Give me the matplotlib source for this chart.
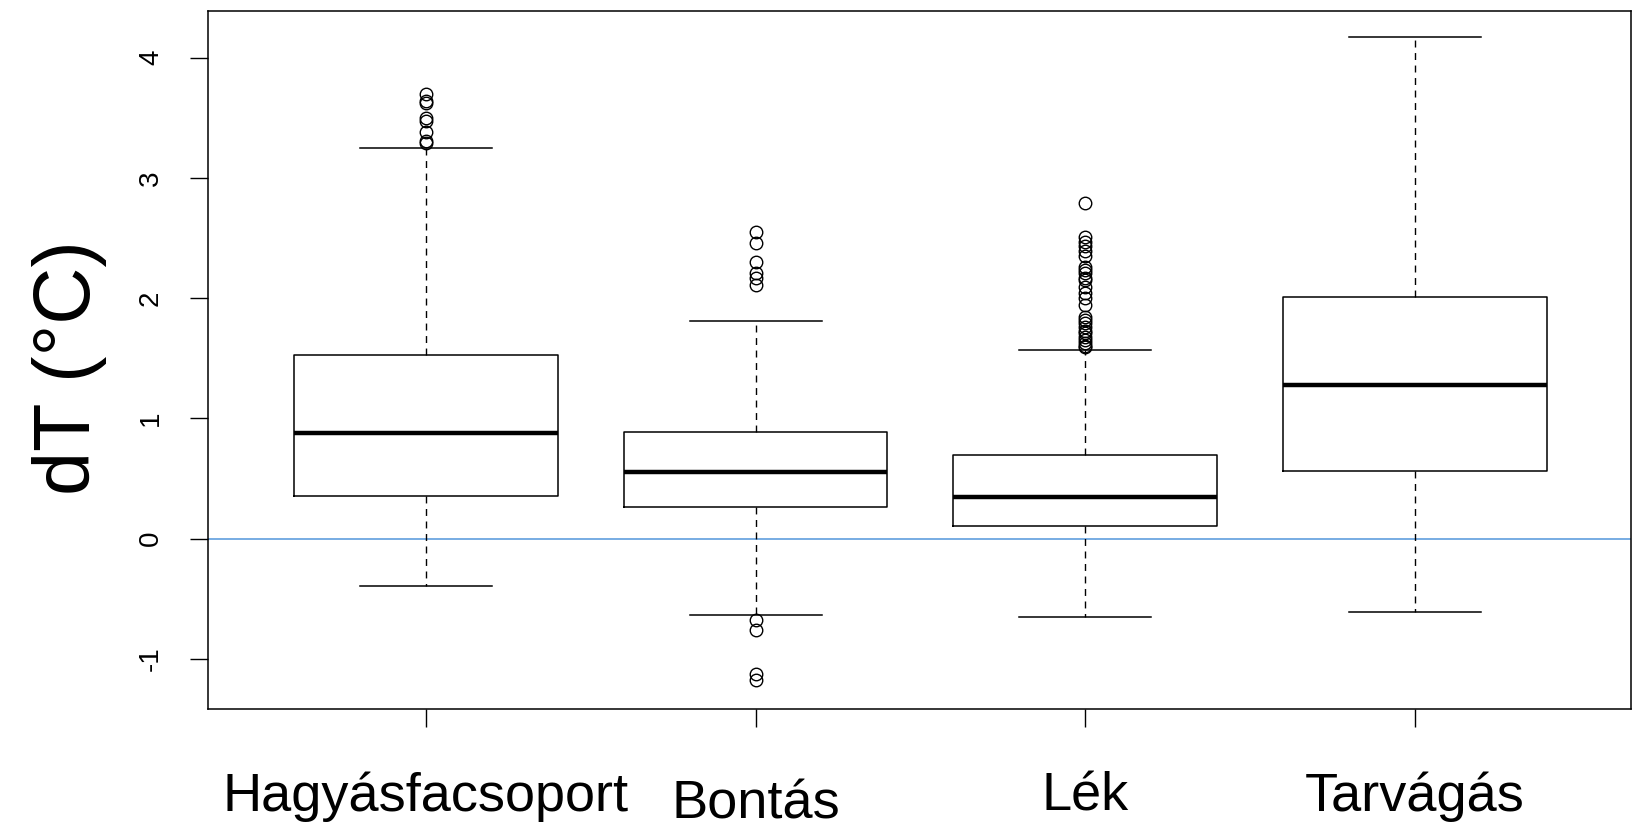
import matplotlib
matplotlib.use("Agg")
import matplotlib.pyplot as plt
from matplotlib.transforms import ScaledTranslation

plt.rcParams['font.family'] = ['Liberation Sans', 'DejaVu Sans']

# values
categories = ["Hagyásfacsoport", "Bontás", "Lék", "Tarvágás"]
q1 = [0.355, 0.26, 0.104, 0.563]
med = [0.874, 0.554, 0.346, 1.273]
q3 = [1.524, 0.883, 0.693, 2.009]
whislo = [-0.398, -0.632, -0.65, -0.615]
whishi = [3.247, 1.81, 1.567, 4.173]
outliers = [
    [3.70, 3.64, 3.62, 3.50, 3.47, 3.38, 3.31, 3.29],
    [2.55, 2.46, 2.30, 2.21, 2.17, 2.11, -0.675, -0.76, -1.13, -1.18],
    [2.79, 2.51, 2.47, 2.43, 2.39, 2.35, 2.26, 2.23, 2.21, 2.17, 2.15,
     2.09, 2.04, 2.00, 1.94, 1.84, 1.82, 1.79, 1.76, 1.73, 1.71, 1.68,
     1.65, 1.63, 1.60, 1.59],
    [],
]
yticks = [-1, 0, 1, 2, 3, 4]

stats = []
for i in range(len(categories)):
    stats.append(dict(label=categories[i], q1=q1[i], med=med[i], q3=q3[i],
                      whislo=whislo[i], whishi=whishi[i], fliers=outliers[i]))

fig = plt.figure(figsize=(16.34, 8.25), dpi=100)
ax = fig.add_axes([0.1276, 0.141, 0.8704, 0.846])

pos = [1, 2, 3, 4]
ax.axhline(0, color="#6CA6E0", lw=1.3, zorder=0)
ax.bxp(stats, positions=pos, widths=0.8, capwidths=0.4,
       boxprops=dict(color="black", lw=1.1),
       medianprops=dict(color="black", lw=3.2, solid_capstyle="butt"),
       whiskerprops=dict(color="black", lw=1.0, linestyle=(0, (5, 4))),
       capprops=dict(color="black", lw=1.1),
       flierprops=dict(marker="o", markerfacecolor="none", markeredgecolor="black",
                       markersize=9, markeredgewidth=1.0))

ax.set_xlim(0.34, 4.655)
ax.set_ylim(-1.415, 4.39)
ax.set_yticks(yticks)
ax.set_yticklabels([str(t) for t in yticks])
ax.set_xticks(pos)
ax.set_xticklabels(categories, fontsize=39)
ax.tick_params(axis="x", length=13, width=1.0, pad=32)
ax.tick_params(axis="y", length=13, width=1.0, pad=19, labelsize=20, labelrotation=90)
for lab in ax.get_yticklabels():
    lab.set_va("center")
for s in ax.spines.values():
    s.set_linewidth(1.1)

# second label sits a bit lower in the original
lab = ax.get_xticklabels()[1]
lab.set_transform(lab.get_transform() + ScaledTranslation(0, -0.08, fig.dpi_scale_trans))

ax.set_ylabel("dT (°C)", fontsize=57)
ax.yaxis.set_label_coords(-0.098, 0.489)
ax.yaxis.label.set_va("center")

fig.savefig("out.png", dpi=100)
